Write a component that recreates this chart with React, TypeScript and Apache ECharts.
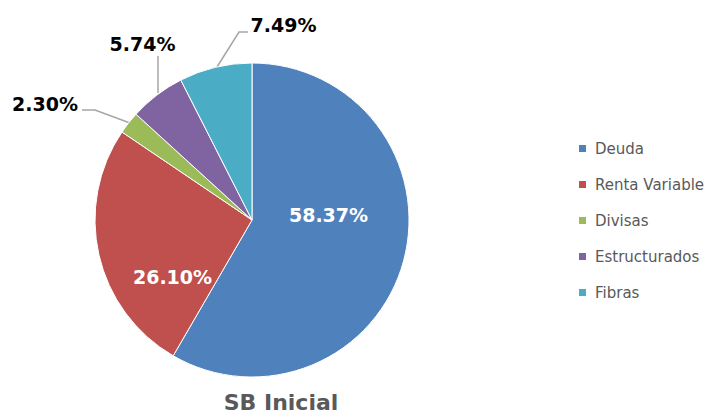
import React, { useEffect, useRef } from "react";
import * as echarts from "echarts";

const categories = ["Deuda", "Renta Variable", "Divisas", "Estructurados", "Fibras"];
const values = [58.37, 26.1, 2.3, 5.74, 7.49];
const colors = ["#4F81BD", "#C0504D", "#9BBB59", "#8064A2", "#4BACC6"];
const insideLabel = [true, true, false, false, false];
const titleText = "SB Inicial";

// label placement (layout only)
const LABEL_LAYOUT: Record<number, { x: number; y: number; line?: number[][] }> = {
  0: { x: 328.5, y: 214.5 },
  1: { x: 172.5, y: 276.7 },
  2: { x: 45, y: 103.5, line: [[130, 123], [95, 110], [82, 110]] },
  3: { x: 142.5, y: 43.5, line: [[158, 93], [158, 75], [158, 56]] },
  4: { x: 283.5, y: 25, line: [[217, 67], [239, 32], [248, 32]] },
};

export default function App() {
  const ref = useRef<HTMLDivElement>(null);
  useEffect(() => {
    document.body.style.margin = "0";
    if (!ref.current) return;
    const chart = echarts.init(ref.current, null, { renderer: "svg" });
    const data = categories.map((name, i) => ({
      name,
      value: values[i],
      itemStyle: { color: colors[i] },
      label: insideLabel[i]
        ? { position: "inside", color: "#FFFFFF" }
        : { position: "outside", color: "#000000" },
      labelLine: { show: !insideLabel[i] },
    }));
    chart.setOption({
      animation: false,
      backgroundColor: "#FFFFFF",
      title: {
        text: titleText,
        left: 276,
        textAlign: "center",
        top: 385,
        textStyle: {
          fontFamily: "DejaVu Sans",
          fontWeight: "bold",
          fontSize: 22,
          lineHeight: 24,
          color: "#595959",
        },
      },
      legend: {
        orient: "vertical",
        left: 572,
        top: 136,
        itemWidth: 9,
        itemHeight: 9,
        itemGap: 21,
        icon: "rect",
        textStyle: {
          fontFamily: "DejaVu Sans",
          fontSize: 15,
          lineHeight: 15,
          color: "#595959",
          padding: [0, 0, 0, 3],
        },
        data: categories,
      },
      series: [
        {
          type: "pie",
          center: [252, 220],
          radius: 157,
          startAngle: 90,
          clockwise: true,
          avoidLabelOverlap: false,
          itemStyle: { borderColor: "#FFFFFF", borderWidth: 1 },
          label: {
            show: true,
            formatter: (p: any) => p.value.toFixed(2) + "%",
            fontFamily: "DejaVu Sans",
            fontWeight: "bold",
            fontSize: 19,
          },
          labelLine: {
            lineStyle: { color: "#A6A6A6", width: 1.5 },
            smooth: false,
          },
          labelLayout: (params: any) => {
            const l = LABEL_LAYOUT[params.dataIndex];
            const out: any = { x: l.x, y: l.y, align: "center", verticalAlign: "middle" };
            if (l.line) out.labelLinePoints = l.line;
            return out;
          },
          emphasis: { disabled: true },
          data,
        },
      ],
    });
    return () => chart.dispose();
  }, []);
  return <div ref={ref} style={{ width: 705, height: 416 }} />;
}
